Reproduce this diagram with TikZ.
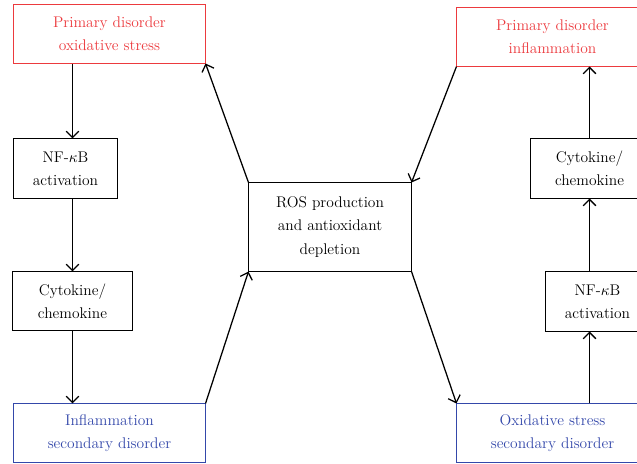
\documentclass[tikz,border=0pt]{standalone}
\usetikzlibrary{arrows.meta}
\definecolor{boxred}{RGB}{236,58,62}
\definecolor{boxblue}{RGB}{52,72,170}
\begin{document}
\begin{tikzpicture}[x=0.025cm, y=-0.025cm,
                    arrow/.style = {line width=0.9pt,-{Straight Barb[length=4.5pt,width=9pt]}},
                    stage/.style = {draw, line width=0.9pt, inner sep=0pt, outer sep=0pt, align=center,
                                    font=\fontsize{11}{16.4}\selectfont},
                    primary/.style = {stage, draw=boxred, text=boxred, minimum width=4.8cm, minimum height=1.475cm},
                    secondary/.style = {stage, draw=boxblue, text=boxblue, minimum width=4.8cm, minimum height=1.475cm}]
                    \useasboundingbox (0,0) rectangle (637,464);
                    \clip (0,0) rectangle (637,464);

                    % left column
                    \node [primary] (po) at (109.5,34) {Primary disorder\\oxidative stress};
                    \node [stage, minimum width=2.6cm, minimum height=1.5cm] (nfl) at (65.5,168.5) {NF-$\kappa$B\\activation};
                    \node [stage, minimum width=3cm, minimum height=1.475cm] (cyl) at (72.5,301) {Cytokine/\\chemokine};
                    \node [secondary] (isd) at (109.5,433) {Inflammation\\secondary disorder};

                    % centre
                    \node [stage, minimum width=4.075cm, minimum height=2.225cm] (ros) at (330,227) {ROS production\\and antioxidant\\depletion};

                    % right column
                    \node [primary] (pi) at (552.5,37) {Primary disorder\\inflammation};
                    \node [stage, minimum width=2.95cm, minimum height=1.5cm] (cyr) at (589.5,168.5) {Cytokine/\\chemokine};
                    \node [stage, minimum width=2.6cm, minimum height=1.5cm] (nfr) at (597.5,301.5) {NF-$\kappa$B\\activation};
                    \node [secondary] (oss) at (552.5,433) {Oxidative stress\\secondary disorder};

                    \draw[arrow] (po.south -| cyl.north) -- (nfl.north -| cyl.north);
                    \draw[arrow] (nfl.south -| cyl.north) -- (cyl.north);
                    \draw[arrow] (cyl.south) -- (isd.north -| cyl.south);
                    \draw[arrow] (isd.north east) -- (ros.south west);
                    \draw[arrow] (ros.north west) -- (po.south east);

                    \draw[arrow] (pi.south west) -- (ros.north east);
                    \draw[arrow] (ros.south east) -- (oss.north west);
                    \draw[arrow] (oss.north -| cyr.south) -- (nfr.south -| cyr.south);
                    \draw[arrow] (nfr.north -| cyr.south) -- (cyr.south);
                    \draw[arrow] (cyr.north) -- (pi.south -| cyr.north);
                \end{tikzpicture}
\end{document}
